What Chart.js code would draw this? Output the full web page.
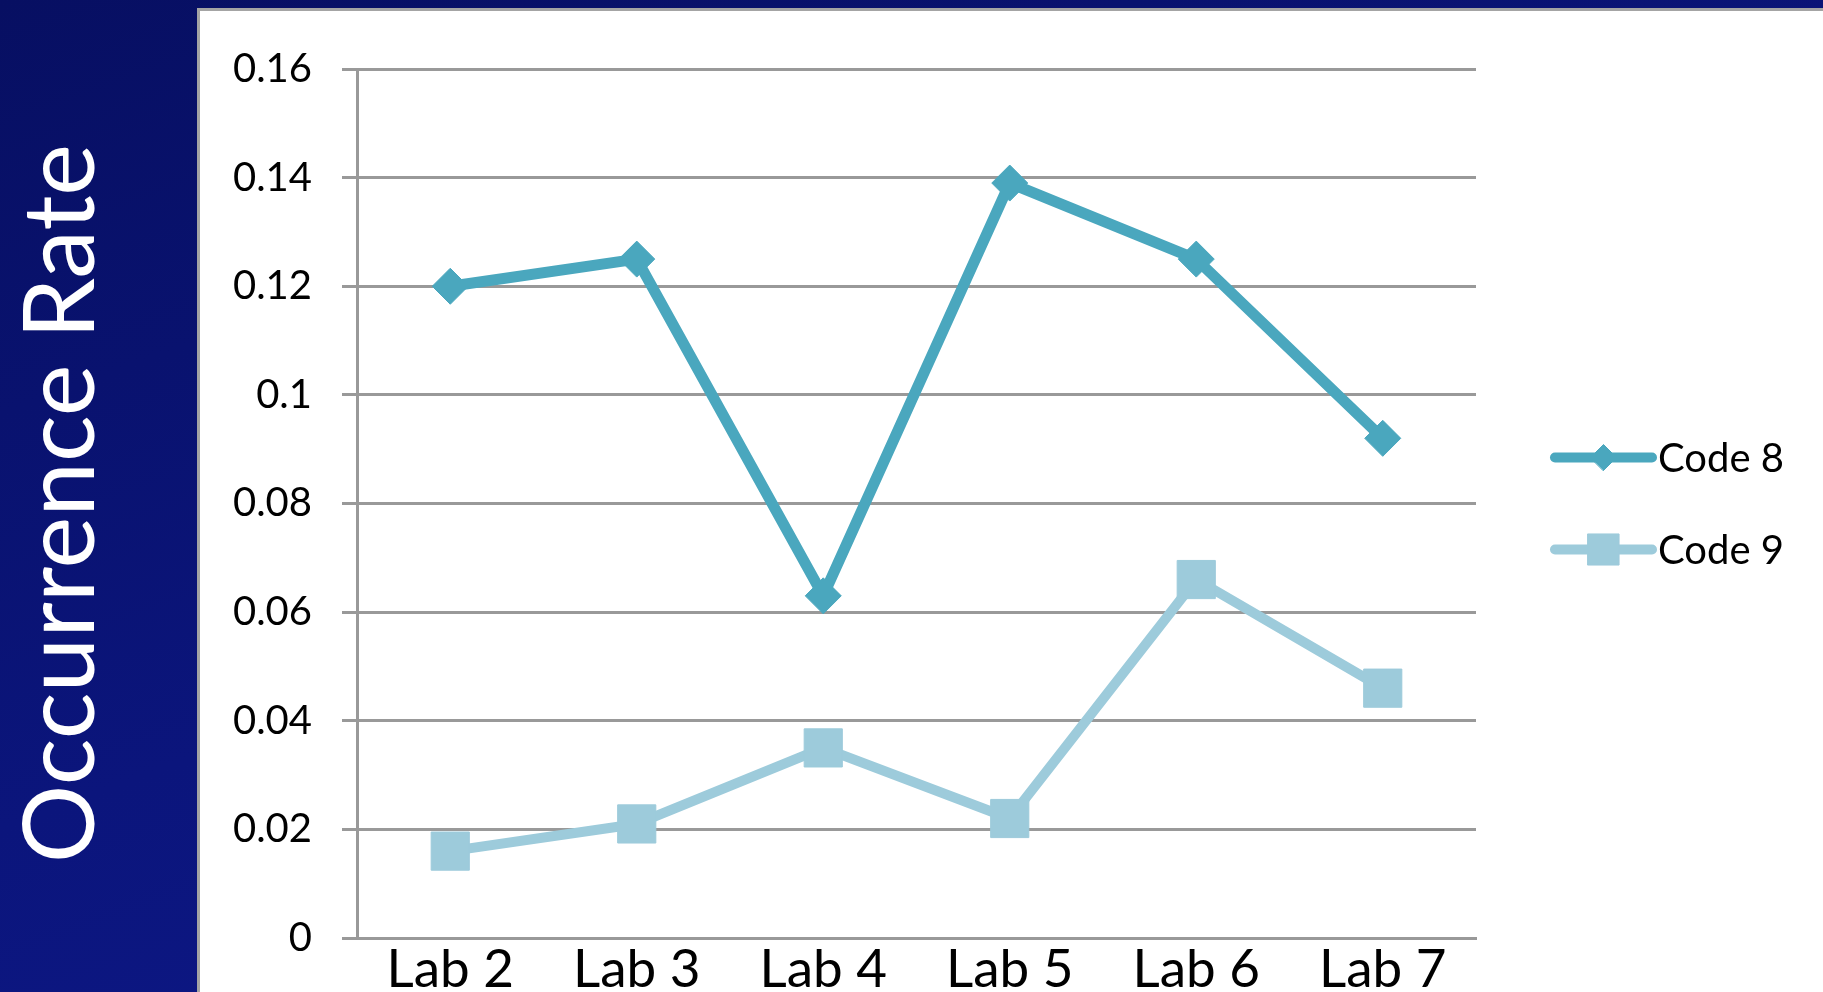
<!DOCTYPE html>
<html>
<head>
<meta charset="utf-8">
<title>Occurrence Rate</title>
<script src="https://cdn.jsdelivr.net/npm/chart.js@4"></script>
<style>
  html, body { margin: 0; padding: 0; overflow: hidden; }
  body {
    width: 1823px; height: 992px; position: relative;
    background: linear-gradient(160deg, #070f62 0%, #0b157c 50%, #0f1a8e 100%);
  }
  #panel {
    position: absolute; left: 197px; top: 8px; width: 1640px; height: 1000px;
    background: #ffffff; border: 3px solid #a4a4a4; box-sizing: border-box;
  }
  #chart { position: absolute; left: 0; top: 0; }
</style>
</head>
<body>
<div id="panel"></div>
<canvas id="chart" width="1823" height="992"></canvas>
<script>
// Datos de las series
const labs = ['Lab 2', 'Lab 3', 'Lab 4', 'Lab 5', 'Lab 6', 'Lab 7'];
const code8 = [0.120, 0.125, 0.063, 0.139, 0.125, 0.092];
const code9 = [0.016, 0.021, 0.035, 0.022, 0.066, 0.046];
const seriesNames = ['Code 8', 'Code 9'];
const yMax = 0.16;
const yStep = 0.02;

const color8 = '#4aa7be';
const color9 = '#9dcbdb';
const gridColor = '#999999';

// Leyenda a la derecha: línea + marcador + texto
const leyendaPlugin = {
  id: 'leyenda',
  afterDraw(chart) {
    const ctx = chart.ctx;
    const area = chart.chartArea;
    const cy = (area.top + area.bottom) / 2;
    const filas = [
      { y: cy - 46, color: color8, style: 'rectRot', radius: 13 },
      { y: cy + 46, color: color9, style: 'rect', radius: 22 }
    ];
    filas.forEach(function (f, i) {
      const x0 = area.right + 79;
      const x1 = area.right + 176;
      ctx.save();
      ctx.strokeStyle = f.color;
      ctx.lineWidth = 10;
      ctx.lineCap = 'round';
      ctx.beginPath();
      ctx.moveTo(x0, f.y);
      ctx.lineTo(x1, f.y);
      ctx.stroke();
      ctx.fillStyle = f.color;
      ctx.strokeStyle = f.color;
      ctx.lineWidth = 1;
      Chart.helpers.drawPoint(ctx, { pointStyle: f.style, radius: f.radius, borderWidth: 1 }, (x0 + x1) / 2, f.y);
      ctx.fillStyle = '#000000';
      ctx.font = '40px Lato';
      ctx.textAlign = 'left';
      ctx.textBaseline = 'middle';
      ctx.fillText(seriesNames[i], area.right + 182, f.y + 2);
      ctx.restore();
    });
  }
};

const ctx = document.getElementById('chart').getContext('2d');

new Chart(ctx, {
  type: 'line',
  data: {
    labels: labs,
    datasets: [
      {
        label: seriesNames[0],
        data: code8,
        borderColor: color8,
        backgroundColor: color8,
        borderWidth: 11,
        borderJoinStyle: 'round',
        pointStyle: 'rectRot',
        pointRadius: 18,
        pointBorderWidth: 1,
        tension: 0
      },
      {
        label: seriesNames[1],
        data: code9,
        borderColor: color9,
        backgroundColor: color9,
        borderWidth: 10,
        borderJoinStyle: 'round',
        pointStyle: 'rect',
        pointRadius: 27,
        pointBorderWidth: 1,
        tension: 0
      }
    ]
  },
  options: {
    responsive: false,
    animation: false,
    layout: { padding: { left: 0, top: 69, right: 347, bottom: 0 } },
    plugins: {
      legend: { display: false },
      tooltip: { enabled: false }
    },
    scales: {
      x: {
        offset: true,
        grid: { display: false },
        border: { display: true, color: gridColor, width: 3 },
        ticks: {
          color: '#000000',
          padding: -8,
          font: { family: 'Lato', size: 53, lineHeight: 1.2 }
        },
        afterFit(scale) { scale.height = 53; }
      },
      y: {
        min: 0,
        max: yMax,
        grid: { color: gridColor, lineWidth: 3, tickLength: 15, drawTicks: true },
        border: { display: true, color: gridColor, width: 3 },
        ticks: {
          stepSize: yStep,
          color: '#000000',
          padding: 30,
          font: { family: 'Lato', size: 40 },
          callback: function (v) { return parseFloat(v.toFixed(2)).toString(); }
        },
        title: {
          display: true,
          text: 'Occurrence Rate',
          color: '#ffffff',
          padding: { top: 13, bottom: 0 },
          font: { family: 'Lato', size: 98, lineHeight: 1 }
        },
        afterFit(scale) { scale.width = 357; }
      }
    }
  },
  plugins: [leyendaPlugin]
});
</script>
</body>
</html>
